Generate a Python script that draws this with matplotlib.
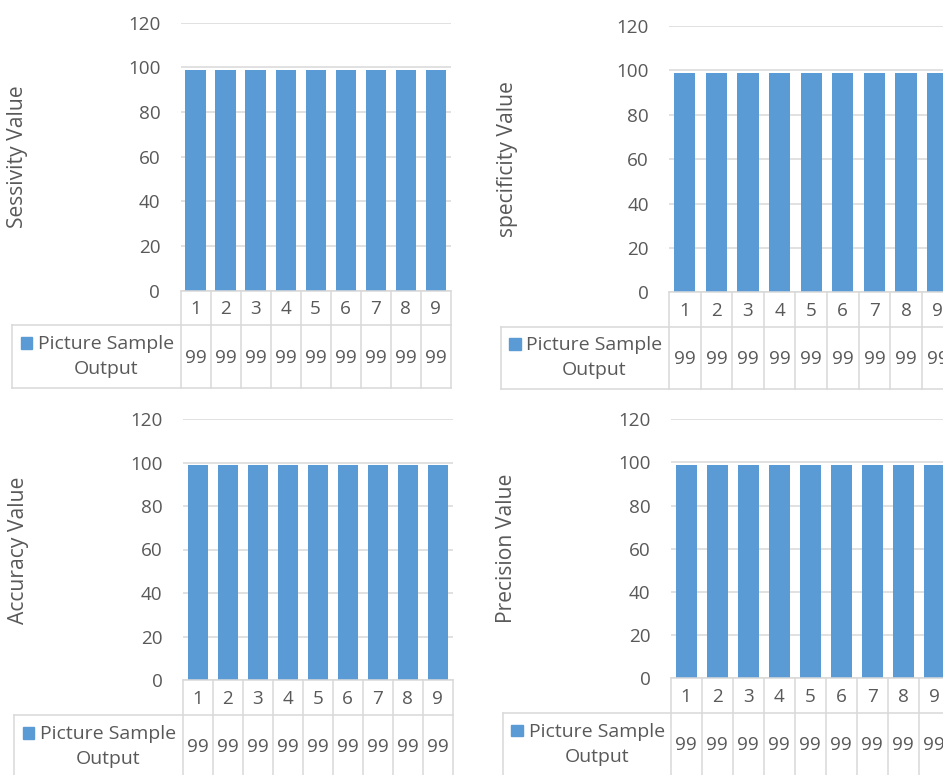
import matplotlib
matplotlib.use("Agg")
import matplotlib.pyplot as plt
import matplotlib.transforms as mtransforms
from matplotlib.lines import Line2D
from matplotlib.patches import Rectangle

plt.rcParams["font.family"] = ["Open Sans", "DejaVu Sans"]

# ---- data ----
categories = ["1", "2", "3", "4", "5", "6", "7", "8", "9"]
series_name = "Picture Sample\nOutput"
sensitivity = [99, 99, 99, 99, 99, 99, 99, 99, 99]
specificity = [99, 99, 99, 99, 99, 99, 99, 99, 99]
accuracy = [99, 99, 99, 99, 99, 99, 99, 99, 99]
precision = [99, 99, 99, 99, 99, 99, 99, 99, 99]
y_ticks = [0, 20, 40, 60, 80, 100, 120]
y_labels = ["Sessivity Value", "specificity Value", "Accuracy Value", "Precision Value"]

W, H = 943, 775
BAR = "#5B9BD5"
TXT = "#595959"
GRID = "#D9D9D9"
FS = 13.6
FS_LEG = 14.0
FS_TITLE = 15.2

fig = plt.figure(figsize=(W / 100, H / 100), dpi=100)
fig.patch.set_facecolor("white")

# pixel coordinates (origin top-left) -> display
px = mtransforms.Affine2D().scale(1 / W, -1 / H).translate(0, 1) + fig.transFigure

# panel layout in pixels: plot left/right, y of 120 and 0, table row borders,
# legend-cell left edge, y-label x and centre
panels = [
    dict(vals=sensitivity, lab=y_labels[0], L=180.5, R=450.7, T=22.7, B=290.8,
         Y1=325.0, Y2=388.3, LL=12.0, lx=17.5, ly=157),
    dict(vals=specificity, lab=y_labels[1], L=669.0, R=669.0 + 9 * 31.6, T=26.0, B=292.3,
         Y1=326.7, Y2=388.8, LL=500.5, lx=507, ly=159),
    dict(vals=accuracy, lab=y_labels[2], L=182.7, R=452.7, T=419.0, B=680.0,
         Y1=715.0, Y2=778.0, LL=14.0, lx=19, ly=550),
    dict(vals=precision, lab=y_labels[3], L=670.7, R=670.7 + 9 * 31.0, T=419.3, B=678.3,
         Y1=712.7, Y2=776.0, LL=502.7, lx=507, ly=548),
]

def line(xs, ys, transform):
    fig.add_artist(Line2D(xs, ys, transform=transform, color=GRID, lw=1.1,
                          clip_on=False, zorder=5))

for p in panels:
    ax = fig.add_axes([p["L"] / W, 1 - p["B"] / H,
                       (p["R"] - p["L"]) / W, (p["B"] - p["T"]) / H])
    x = list(range(len(categories)))
    ax.bar(x, p["vals"], width=0.67, color=BAR, zorder=3)
    ax.set_xlim(-0.5, len(categories) - 0.5)
    ax.set_ylim(0, 120)
    ax.set_yticks(y_ticks)
    ax.set_yticklabels([str(t) for t in y_ticks])
    ax.set_xticks([])
    ax.tick_params(axis="y", length=0, pad=14.5, labelsize=FS, labelcolor=TXT)
    ax.grid(axis="y", color=GRID, lw=1.1, zorder=0)
    for s in ax.spines.values():
        s.set_visible(False)
    ax.set_facecolor("none")

    # y-axis title
    fig.text(p["lx"] / W, 1 - p["ly"] / H, p["lab"], rotation=90, ha="center",
             va="center", color=TXT, fontsize=FS_TITLE)

    # data table under the axis
    bt = mtransforms.blended_transform_factory(ax.transData, px)
    n = len(categories)
    for i in range(n + 1):
        line([i - 0.5, i - 0.5], [p["B"], p["Y2"]], bt)
    line([-0.5, n - 0.5], [p["B"], p["B"]], bt)
    line([p["LL"], p["R"]], [p["Y1"], p["Y1"]], px)
    line([p["LL"], p["R"]], [p["Y2"], p["Y2"]], px)
    line([p["LL"], p["LL"]], [p["Y1"], p["Y2"]], px)

    yc1 = (p["B"] + p["Y1"]) / 2 + 1
    yc2 = (p["Y1"] + p["Y2"]) / 2 + 1
    for i, (c, v) in enumerate(zip(categories, p["vals"])):
        ax.text(i, yc1, c, transform=bt, ha="center", va="center",
                color=TXT, fontsize=FS, clip_on=False)
        ax.text(i, yc2, f"{v}", transform=bt, ha="center", va="center",
                color=TXT, fontsize=FS, clip_on=False)

    # legend key inside the table's first column
    sw = 11.5
    sx = p["LL"] + 8.7
    fig.add_artist(Rectangle((sx, yc2 - 20.5), sw, sw, transform=px, color=BAR,
                             clip_on=False))
    tx = p["LL"] + 94
    fig.text(tx, yc2 - 1, series_name, transform=px,
             ha="center", va="center", color=TXT, fontsize=FS_LEG, linespacing=1.5)

fig.savefig("out.png", dpi=100, facecolor="white")
